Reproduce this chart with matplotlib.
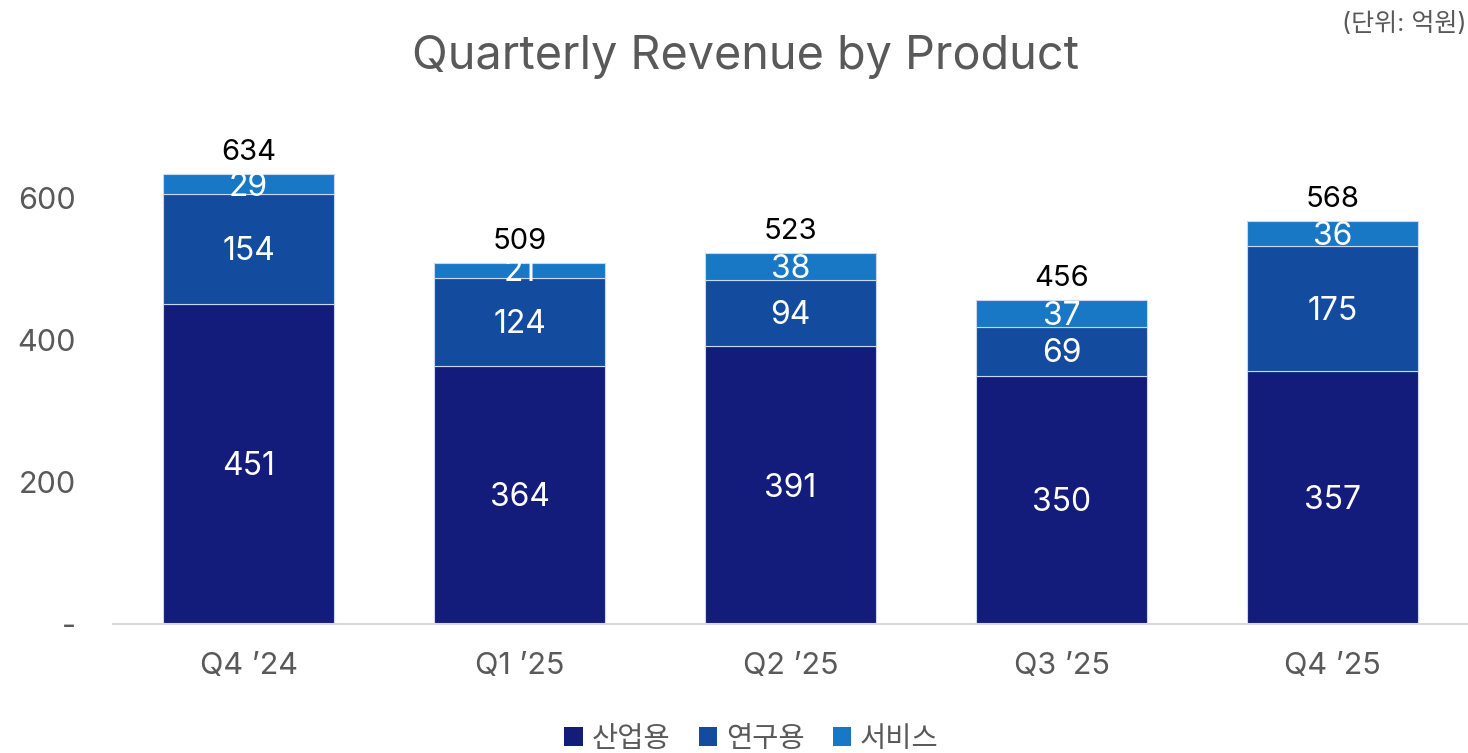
import matplotlib
matplotlib.use('Agg')
from matplotlib import pyplot as plt
from matplotlib.patches import Patch
import numpy as np

plt.rcParams['font.family'] = ['Inter', 'Noto Sans CJK KR', 'DejaVu Sans']

quarters = ["Q4 \u201924", "Q1 \u201925", "Q2 \u201925", "Q3 \u201925", "Q4 \u201925"]
industrial = [451, 364, 391, 350, 357]   # 산업용
research = [154, 124, 94, 69, 175]       # 연구용
service = [29, 21, 38, 37, 36]           # 서비스
series_names = ["산업용", "연구용", "서비스"]
colors = ["#131C7A", "#134C9F", "#1878C5"]

gray = "#595959"

fig = plt.figure(figsize=(14.68, 7.53), dpi=100)
ax = fig.add_axes([0.077, 0.1713, 0.923, 0.66])

x = np.arange(len(quarters))
width = 0.63
bottom = np.zeros(len(quarters))
for vals, col in zip([industrial, research, service], colors):
    ax.bar(x, vals, width, bottom=bottom, color=col,
           edgecolor="#c9d8ee", linewidth=0.8)
    for xi, v, b in zip(x, vals, bottom):
        ax.text(xi, b + v / 2 - 4, str(v), ha='center', va='center',
                color='white', fontsize=23)
    bottom = bottom + np.array(vals)

# totals on top
for xi, tot in zip(x, bottom):
    ax.text(xi, tot + 11, str(int(tot)), ha='center', va='bottom',
            color='black', fontsize=21)

ax.set_xlim(-0.5, len(quarters) - 0.5)
ax.set_ylim(0, 700)
ax.set_yticks([0, 200, 400, 600])
ax.set_yticklabels(["-", "200", "400", "600"])
ax.set_xticks(x)
ax.set_xticklabels(quarters)
ax.tick_params(axis='both', length=0, labelsize=22, colors=gray)
ax.tick_params(axis='y', pad=27)
ax.tick_params(axis='x', pad=20)
for s in ['top', 'right', 'left']:
    ax.spines[s].set_visible(False)
ax.spines['bottom'].set_color('#D9D9D9')
ax.spines['bottom'].set_linewidth(1.5)

fig.text(0.508, 0.924, "Quarterly Revenue by Product", ha='center', va='center',
         fontsize=33.7, color=gray)
fig.text(0.999, 0.968, "(단위: 억원)", ha='right', va='center',
         fontsize=18, color=gray)

handles = [Patch(facecolor=c, edgecolor='none') for c in colors]
fig.legend(handles, series_names, loc='center', bbox_to_anchor=(0.512, 0.018),
           ncol=3, frameon=False, fontsize=20.5, labelcolor=gray,
           handlelength=0.65, handleheight=0.65, handletextpad=0.3,
           columnspacing=1.0)

fig.savefig("out.png", dpi=100)
